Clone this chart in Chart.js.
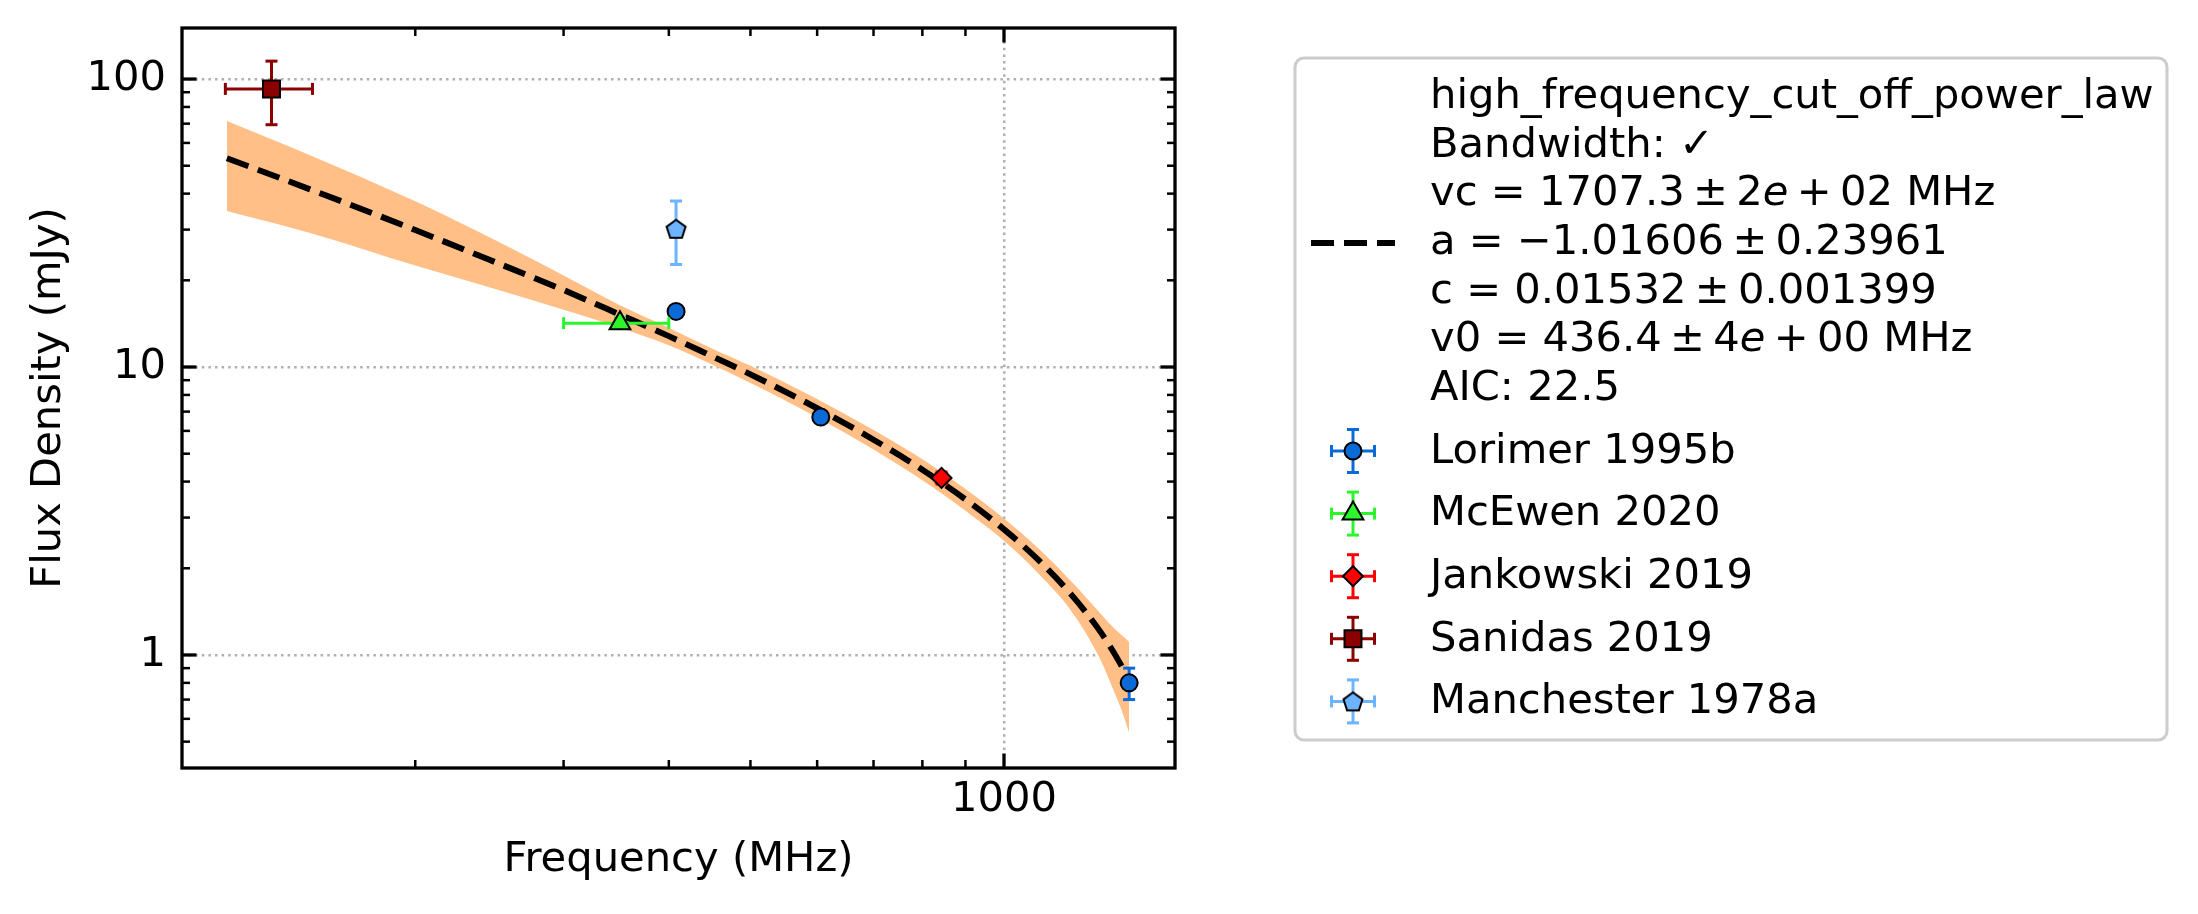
<!DOCTYPE html>
<html>
<head>
<meta charset="utf-8">
<script src="https://cdn.jsdelivr.net/npm/chart.js@4.4.0/dist/chart.umd.min.js"></script>
<style>
  html, body { margin: 0; padding: 0; background: #ffffff; }
  #wrap { width: 2198px; height: 914px; }
</style>
</head>
<body>
<div id="wrap"><canvas id="flux_chart_area" width="2198" height="914"></canvas></div>
<script>
"use strict"
// values (MHz, mJy)
var lorimerFreq = [408, 606, 1408];
var lorimerFlux = [15.6, 6.7, 0.80];
var lorimerFluxErr = [0.7, 0.3, 0.10];
var lorimerFreqErr = [0, 0, 0];

var mcewenFreq = [350];
var mcewenFlux = [14.2];
var mcewenFluxErr = [0.6];
var mcewenFreqErr = [50];

var jankowskiFreq = [843];
var jankowskiFlux = [4.12];
var jankowskiFluxErr = [0.2];
var jankowskiFreqErr = [12];

var sanidasFreq = [135];
var sanidasFlux = [92.4];
var sanidasFluxErr = [23];
var sanidasFreqErr = [16];

var manchesterFreq = [408];
var manchesterFlux = [30.2];
var manchesterFluxErr = [7.5];
var manchesterFreqErr = [0];

// fitted model and its uncertainty band
var fitFreq  = [119.5, 150, 200, 250, 300, 350, 400, 450, 500, 600, 700, 800, 900, 1000, 1100, 1200, 1300, 1350, 1380, 1408];
var fitFlux  = [53.1, 41.4, 29.9, 23.0, 18.5, 15.2, 12.8, 10.9, 9.43, 7.19, 5.59, 4.40, 3.47, 2.73, 2.13, 1.63, 1.21, 1.02, 0.912, 0.817];
var fitUpper = [71.5, 54.4, 37.6, 27.4, 20.8, 16.4, 13.7, 11.6, 10.1, 7.74, 6.04, 4.78, 3.77, 2.98, 2.34, 1.81, 1.40, 1.24, 1.17, 1.11];
var fitLower = [34.8, 29.2, 22.5, 18.6, 15.8, 13.7, 11.9, 10.2, 8.80, 6.68, 5.17, 4.04, 3.17, 2.49, 1.91, 1.43, 0.97, 0.75, 0.64, 0.536];

// axes
var xMin = 105.7, xMax = 1596;
var yMin = 0.405, yMax = 150.4;
var xMajorTicks = [1000];
var xMinorTicks = [200, 300, 400, 500, 600, 700, 800, 900];
var yMajorTicks = [1, 10, 100];
var yMinorTicks = [0.5, 0.6, 0.7, 0.8, 0.9, 2, 3, 4, 5, 6, 7, 8, 9, 20, 30, 40, 50, 60, 70, 80, 90];

var fitLegendLines = [
    "high_frequency_cut_off_power_law",
    "Bandwidth: \u2713",
    "vc = 1707.3\u2009\u00b1\u20092e\u2009+\u200902 MHz",
    "a = \u22121.01606\u2009\u00b1\u20090.23961",
    "c = 0.01532\u2009\u00b1\u20090.001399",
    "v0 = 436.4\u2009\u00b1\u20094e\u2009+\u200900 MHz",
    "AIC: 22.5"
];

var FONT = "'DejaVu Sans', sans-serif";
var BLACK = "#000000";

function zip(xs, ys){
    return xs.map(function(v, i){ return {x: v, y: ys[i]}; });
}

function make_pentagon(r, fill){
    var s = Math.ceil(2 * r + 4);
    var c = document.createElement("canvas");
    c.width = s; c.height = s;
    var g = c.getContext("2d");
    g.beginPath();
    for (var k = 0; k < 5; k++) {
        var ang = -Math.PI / 2 + k * 2 * Math.PI / 5;
        var px = s / 2 + r * Math.cos(ang), py = s / 2 + 1 + r * Math.sin(ang);
        if (k === 0) g.moveTo(px, py); else g.lineTo(px, py);
    }
    g.closePath();
    g.fillStyle = fill; g.fill();
    g.lineWidth = 2; g.strokeStyle = BLACK; g.stroke();
    return c;
}

var pentagonMarker = make_pentagon(10, "#6cb4ff");

var series = [
    {label: "Lorimer 1995b", freq: lorimerFreq, flux: lorimerFlux, errY: lorimerFluxErr, errX: lorimerFreqErr,
     color: "#0b6ad6", fill: "#0b6ad6", style: "circle", radius: 8.5},
    {label: "McEwen 2020", freq: mcewenFreq, flux: mcewenFlux, errY: mcewenFluxErr, errX: mcewenFreqErr,
     color: "#2cf52c", fill: "#2cf52c", style: "triangle", radius: 12},
    {label: "Jankowski 2019", freq: jankowskiFreq, flux: jankowskiFlux, errY: jankowskiFluxErr, errX: jankowskiFreqErr,
     color: "#ff0000", fill: "#ff0000", style: "rectRot", radius: 10},
    {label: "Sanidas 2019", freq: sanidasFreq, flux: sanidasFlux, errY: sanidasFluxErr, errX: sanidasFreqErr,
     color: "#8b0000", fill: "#8b0000", style: "rect", radius: 12},
    {label: "Manchester 1978a", freq: manchesterFreq, flux: manchesterFlux, errY: manchesterFluxErr, errX: manchesterFreqErr,
     color: "#6cb4ff", fill: "#6cb4ff", style: pentagonMarker, radius: 10}
];

var datasets = [
    {label: "band_upper", data: zip(fitFreq, fitUpper), showLine: true, borderWidth: 0, pointRadius: 0,
     fill: "+1", backgroundColor: "#ffbf86", cubicInterpolationMode: "monotone", order: 10},
    {label: "band_lower", data: zip(fitFreq, fitLower), showLine: true, borderWidth: 0, pointRadius: 0,
     fill: false, cubicInterpolationMode: "monotone", order: 11},
    {label: "fit", data: zip(fitFreq, fitFlux), showLine: true, borderColor: BLACK, borderWidth: 6,
     borderDash: [23, 10], pointRadius: 0, fill: false, cubicInterpolationMode: "monotone", order: 5}
];
series.forEach(function(s, i){
    datasets.push({
        label: s.label, data: zip(s.freq, s.flux), showLine: false,
        pointStyle: s.style, pointRadius: s.radius, pointHoverRadius: s.radius,
        backgroundColor: s.fill, borderColor: BLACK, borderWidth: 2,
        errY: s.errY, errX: s.errX, errColor: s.color, order: 4 - i * 0.5
    });
});

function cap_line(ctx, x1, y1, x2, y2){
    ctx.beginPath(); ctx.moveTo(x1, y1); ctx.lineTo(x2, y2); ctx.stroke();
}

function draw_errbar(ctx, px, py, yTop, yBot, xLeft, xRight, color){
    var cap = 6;
    ctx.save();
    ctx.strokeStyle = color; ctx.lineWidth = 3; ctx.lineCap = "butt";
    if (yTop !== null) {
        cap_line(ctx, px, yTop, px, yBot);
        cap_line(ctx, px - cap, yTop, px + cap, yTop);
        cap_line(ctx, px - cap, yBot, px + cap, yBot);
    }
    if (xLeft !== null) {
        cap_line(ctx, xLeft, py, xRight, py);
        cap_line(ctx, xLeft, py - cap, xLeft, py + cap);
        cap_line(ctx, xRight, py - cap, xRight, py + cap);
    }
    ctx.restore();
}

function draw_marker(ctx, style, x, y, r, fill){
    if (typeof style !== "string") {
        ctx.drawImage(style, x - style.width / 2, y - style.height / 2);
        return;
    }
    ctx.save();
    ctx.beginPath();
    if (style === "circle") {
        ctx.arc(x, y, r, 0, Math.PI * 2);
    } else if (style === "triangle") {
        for (var k = 0; k < 3; k++) {
            var a = -Math.PI / 2 + k * 2 * Math.PI / 3;
            if (k === 0) ctx.moveTo(x + r * Math.cos(a), y + r * Math.sin(a));
            else ctx.lineTo(x + r * Math.cos(a), y + r * Math.sin(a));
        }
    } else if (style === "rectRot") {
        ctx.moveTo(x - r, y); ctx.lineTo(x, y - r); ctx.lineTo(x + r, y); ctx.lineTo(x, y + r);
    } else {
        var h = r * Math.SQRT1_2;
        ctx.rect(x - h, y - h, 2 * h, 2 * h);
    }
    ctx.closePath();
    ctx.fillStyle = fill; ctx.fill();
    ctx.lineWidth = 2; ctx.strokeStyle = BLACK; ctx.stroke();
    ctx.restore();
}

// legend line with the exponent "e" set in italic, like mathtext does
function draw_math_line(ctx, text, x, y){
    var parts = text.split(/(?<=\d)(e)(?=\u2009)/);
    var cx = x;
    parts.forEach(function(p){
        ctx.font = (p === "e" ? "italic " : "") + "41.67px " + FONT;
        ctx.fillText(p, cx, y);
        cx += ctx.measureText(p).width;
    });
    ctx.font = "41.67px " + FONT;
}

var framePlugin = {
    id: "frame_plugin",
    beforeDatasetDraw: function(chart, args){
        var ds = chart.data.datasets[args.index];
        if (!ds.errY) return;
        var ctx = chart.ctx, xs = chart.scales.x, ys = chart.scales.y;
        ds.data.forEach(function(p, i){
            var px = xs.getPixelForValue(p.x), py = ys.getPixelForValue(p.y);
            var ey = ds.errY[i], ex = ds.errX[i];
            draw_errbar(ctx, px, py,
                ey > 0 ? ys.getPixelForValue(p.y + ey) : null, ys.getPixelForValue(p.y - ey),
                ex > 0 ? xs.getPixelForValue(p.x - ex) : null, xs.getPixelForValue(p.x + ex),
                ds.errColor);
        });
    },
    afterDraw: function(chart){
        var ctx = chart.ctx, a = chart.chartArea;
        var xs = chart.scales.x, ys = chart.scales.y;
        ctx.save();
        ctx.strokeStyle = BLACK;
        // inward ticks on all four sides
        function tick(list, len, width){
            ctx.lineWidth = width;
            list.forEach(function(v){
                var px = xs.getPixelForValue(v);
                cap_line(ctx, px, a.bottom, px, a.bottom - len);
                cap_line(ctx, px, a.top, px, a.top + len);
            });
        }
        function ytick(list, len, width){
            ctx.lineWidth = width;
            list.forEach(function(v){
                var py = ys.getPixelForValue(v);
                cap_line(ctx, a.left, py, a.left + len, py);
                cap_line(ctx, a.right, py, a.right - len, py);
            });
        }
        tick(xMinorTicks, 8, 2.5);
        tick(xMajorTicks, 14.5, 3.3);
        ytick(yMinorTicks, 8, 2.5);
        ytick(yMajorTicks, 14.5, 3.3);
        ctx.lineWidth = 3.3;
        ctx.strokeRect(a.left, a.top, a.right - a.left, a.bottom - a.top);

        // legend
        var lx = 1295, ly = 58, lw = 872, lh = 682;
        ctx.beginPath();
        ctx.roundRect(lx, ly, lw, lh, 9);
        ctx.fillStyle = "rgba(255,255,255,0.8)";
        ctx.fill();
        ctx.lineWidth = 3; ctx.strokeStyle = "#cccccc";
        ctx.stroke();

        ctx.strokeStyle = BLACK; ctx.lineWidth = 6; ctx.setLineDash([23, 10]);
        cap_line(ctx, 1311, 243, 1395, 243);
        ctx.setLineDash([]);

        ctx.font = "41.67px " + FONT;
        ctx.fillStyle = BLACK;
        ctx.textAlign = "left";
        ctx.textBaseline = "middle";
        fitLegendLines.forEach(function(t, i){
            draw_math_line(ctx, t, 1430, 97 + i * 48.7);
        });
        series.forEach(function(s, i){
            var cy = 451 + i * 62.6, cx = 1353;
            draw_errbar(ctx, cx, cy, cy - 21.5, cy + 21.5, cx - 21.5, cx + 21.5, s.color);
            draw_marker(ctx, s.style, cx, cy, s.radius, s.fill);
            ctx.fillStyle = BLACK;
            ctx.fillText(s.label, 1430, cy + 1);
        });
        ctx.restore();
    }
};

var tickFont = {family: FONT, size: 41.67};
var gridColor = "#b0b0b0";

var fluxChart = new Chart(document.getElementById("flux_chart_area"), {
    type: "scatter",
    data: {datasets: datasets},
    plugins: [framePlugin],
    options: {
        responsive: false,
        devicePixelRatio: 1,
        animation: false,
        events: [],
        layout: {padding: {top: 28, right: 1023, bottom: 0, left: 0}},
        plugins: {legend: {display: false}, tooltip: {enabled: false}},
        scales: {
            x: {
                type: "logarithmic", position: "bottom", min: xMin, max: xMax,
                afterBuildTicks: function(scale){
                    scale.ticks = xMinorTicks.concat(xMajorTicks).map(function(v){ return {value: v}; });
                },
                afterFit: function(scale){
                    scale.height = 146;
                    scale.paddingLeft = 0; scale.paddingRight = 0;
                },
                ticks: {
                    autoSkip: false, maxRotation: 0, padding: 7, color: BLACK, font: tickFont,
                    callback: function(v){ return xMajorTicks.indexOf(v) >= 0 ? String(v) : ""; }
                },
                grid: {
                    drawTicks: false, lineWidth: 2.5,
                    color: function(c){ return c.tick && xMajorTicks.indexOf(c.tick.value) >= 0 ? gridColor : "rgba(0,0,0,0)"; }
                },
                border: {display: false, dash: [2.5, 4.1]},
                title: {display: true, text: "Frequency (MHz)", color: BLACK, font: tickFont, padding: {top: 0, bottom: 29}}
            },
            y: {
                type: "logarithmic", position: "left", min: yMin, max: yMax,
                afterBuildTicks: function(scale){
                    scale.ticks = yMinorTicks.concat(yMajorTicks).sort(function(p, q){ return p - q; })
                        .map(function(v){ return {value: v}; });
                },
                afterFit: function(scale){
                    scale.width = 182;
                    scale.paddingTop = 0; scale.paddingBottom = 0;
                },
                ticks: {
                    autoSkip: false, padding: 16, color: BLACK, font: tickFont,
                    callback: function(v){ return yMajorTicks.indexOf(v) >= 0 ? String(v) : ""; }
                },
                grid: {
                    drawTicks: false, lineWidth: 2.5,
                    color: function(c){ return c.tick && yMajorTicks.indexOf(c.tick.value) >= 0 ? gridColor : "rgba(0,0,0,0)"; }
                },
                border: {display: false, dash: [2.5, 4.1]},
                title: {display: true, text: "Flux Density (mJy)", color: BLACK, font: tickFont, padding: {top: 24, bottom: 0}}
            }
        }
    }
});
</script>
</body>
</html>
